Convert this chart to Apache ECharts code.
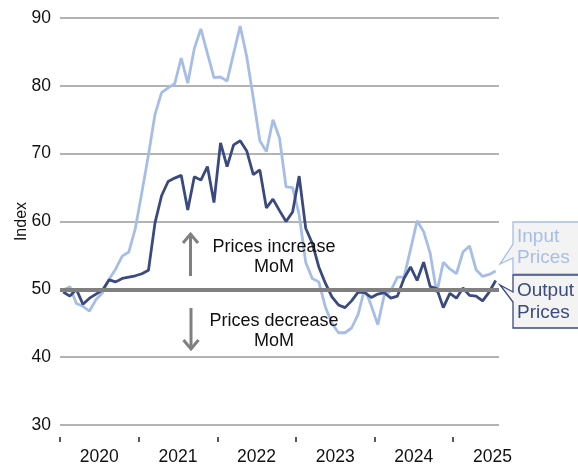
<!DOCTYPE html>
<html>
<head>
<meta charset="utf-8">
<script src="https://cdn.jsdelivr.net/npm/echarts@6/dist/echarts.min.js"></script>
<style>
  html, body { margin: 0; padding: 0; background: #fff; }
  #chart { width: 578px; height: 466px; }
</style>
</head>
<body>
<div id="chart"></div>
<script>
// monthly index, Jan 2020 .. Jul 2025
const years = ["2020", "2021", "2022", "2023", "2024", "2025"];

const inputPrices = [
  49.9, 50.4, 47.9, 47.5, 46.8, 48.5, 49.5, 51.5, 53.0, 54.9, 55.5, 59.0,
  64.3, 69.8, 75.8, 79.0, 79.7, 80.3, 84.1, 80.4, 85.5, 88.4, 84.8, 81.2,
  81.3, 80.7, 84.8, 88.8, 84.3, 78.2, 71.9, 70.3, 75.0, 72.3, 65.1, 65.0,
  61.0, 54.0, 51.6, 51.1, 47.4, 45.0, 43.6, 43.6, 44.3, 46.3, 50.1, 47.6,
  44.8, 49.2, 49.8, 51.8, 51.8, 55.9, 60.1, 58.5, 55.3, 49.5, 54.0, 53.0,
  52.3, 55.5, 56.4, 52.9, 51.9, 52.2, 52.7,
];

const outputPrices = [
  49.6, 49.0, 50.0, 47.8, 48.7, 49.3, 49.9, 51.4, 51.1, 51.6, 51.8, 52.0,
  52.3, 52.8, 59.8, 63.8, 65.9, 66.4, 66.8, 61.7, 66.6, 66.1, 68.1, 62.8,
  71.6, 68.1, 71.3, 71.9, 70.4, 66.9, 67.6, 62.0, 63.3, 61.6, 60.0, 61.4,
  66.7, 59.0, 56.8, 53.3, 50.9, 48.9, 47.7, 47.3, 48.3, 49.6, 49.5, 48.8,
  49.3, 49.5, 48.7, 49.0, 51.6, 53.3, 51.3, 54.0, 50.4, 50.1, 47.3, 49.4,
  48.7, 50.2, 49.1, 49.0, 48.3, 49.6, 51.3,
];

const yTicks = [30, 40, 50, 60, 70, 80, 90];
const neutralLevel = 50;

// x is the month number from Jan 2020; ticks sit on year boundaries, labels mid-year
const monthCount = inputPrices.length;
const yearTicks = years.map((y, i) => i * 12 - 0.5);
const yearLabelPos = years.map((y, i) => i * 12 + 5.5);

const FONT = "Liberation Sans, Arial, sans-serif";
const LIGHT = "#a6bee7";
const DARK = "#3b4a7e";
const GREY = "#808080";

const chart = echarts.init(document.getElementById("chart"), null, { renderer: "canvas" });

function calloutShape(tipX, tipY, x, top, bottom, joinA, joinB, right) {
  return [
    [x, top], [right, top], [right, bottom], [x, bottom],
    [x, joinB], [tipX, tipY], [x, joinA],
  ];
}

chart.setOption({
  animation: false,
  grid: { left: 60, right: 79, top: 18, bottom: 41, outerBoundsMode: "none", containLabel: false },
  xAxis: {
    type: "value",
    min: -0.5,
    max: monthCount - 0.5,
    offset: 12,
    axisLine: { show: false },
    axisTick: {
      show: true,
      length: 5,
      customValues: yearTicks,
      lineStyle: { color: "#222", width: 1.5 },
    },
    axisLabel: {
      customValues: yearLabelPos,
      formatter: (v) => years[Math.round((v - 5.5) / 12)],
      fontFamily: FONT,
      fontSize: 17.5,
      color: "#111",
      margin: 11,
    },
    splitLine: { show: false },
  },
  yAxis: {
    type: "value",
    min: yTicks[0],
    max: yTicks[yTicks.length - 1],
    interval: 10,
    name: "Index",
    nameLocation: "middle",
    nameGap: 30,
    nameMoveOverlap: false,
    nameTextStyle: { fontFamily: FONT, fontSize: 16, color: "#111" },
    axisLine: { show: false },
    axisTick: { show: false },
    axisLabel: { fontFamily: FONT, fontSize: 17.5, color: "#111", margin: 9 },
    splitLine: { lineStyle: { color: "#9a9a9a", width: 1.5 } },
  },
  series: [
    {
      name: "Input Prices",
      type: "line",
      data: inputPrices.map((v, i) => [i, v]),
      showSymbol: false,
      lineStyle: { color: LIGHT, width: 2.8 },
      itemStyle: { color: LIGHT },
      z: 3,
      markLine: {
        silent: true,
        symbol: "none",
        label: { show: false },
        lineStyle: { color: GREY, width: 4, type: "solid" },
        data: [{ yAxis: neutralLevel }],
      },
    },
    {
      name: "Output Prices",
      type: "line",
      data: outputPrices.map((v, i) => [i, v]),
      showSymbol: false,
      lineStyle: { color: DARK, width: 2.8 },
      itemStyle: { color: DARK },
      z: 4,
    },
  ],
  graphic: [
    // up arrow
    { type: "line", shape: { x1: 190.5, y1: 276, x2: 190.5, y2: 236 }, style: { stroke: GREY, lineWidth: 3 }, z: 10 },
    { type: "polyline", shape: { points: [[183, 243], [190.5, 234], [198, 243]] }, style: { stroke: GREY, lineWidth: 3, fill: null }, z: 10 },
    // down arrow
    { type: "line", shape: { x1: 191, y1: 308, x2: 191, y2: 347 }, style: { stroke: GREY, lineWidth: 3 }, z: 10 },
    { type: "polyline", shape: { points: [[183.5, 340], [191, 349], [198.5, 340]] }, style: { stroke: GREY, lineWidth: 3, fill: null }, z: 10 },
    {
      type: "text", x: 274, y: 257, z: 10,
      style: { text: "Prices increase\nMoM", fontFamily: FONT, fontSize: 18, fill: "#111", align: "center", verticalAlign: "middle", lineHeight: 20 },
    },
    {
      type: "text", x: 274, y: 331, z: 10,
      style: { text: "Prices decrease\nMoM", fontFamily: FONT, fontSize: 18, fill: "#111", align: "center", verticalAlign: "middle", lineHeight: 20 },
    },
    // callout boxes
    {
      type: "polygon", z: 10,
      shape: { points: calloutShape(500, 264, 513, 222, 274, 244, 258, 600) },
      style: { fill: "#f3f3f3", stroke: LIGHT, lineWidth: 1.3 },
    },
    {
      type: "text", x: 517, y: 247.5, z: 11,
      style: { text: "Input\nPrices", fontFamily: FONT, fontSize: 19, fill: LIGHT, align: "left", verticalAlign: "middle", lineHeight: 21.5 },
    },
    {
      type: "polygon", z: 10,
      shape: { points: calloutShape(500, 285, 513, 275, 328, 292, 302, 600) },
      style: { fill: "#f3f3f3", stroke: DARK, lineWidth: 1.3 },
    },
    {
      type: "text", x: 517, y: 301.7, z: 11,
      style: { text: "Output\nPrices", fontFamily: FONT, fontSize: 19, fill: DARK, align: "left", verticalAlign: "middle", lineHeight: 21.5 },
    },
  ],
});
</script>
</body>
</html>
